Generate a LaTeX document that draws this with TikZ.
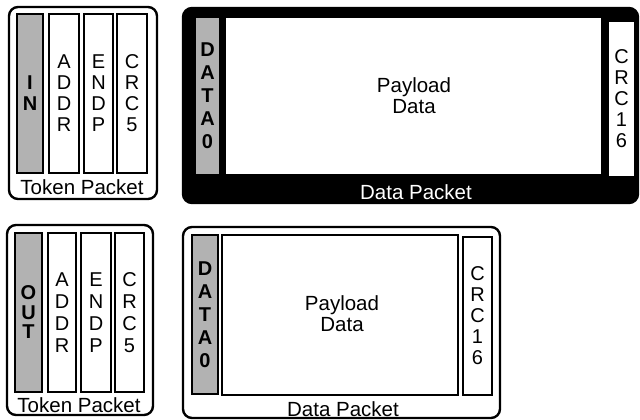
\documentclass[tikz,border=0pt]{standalone}
\usepackage{fontspec}
\setmainfont{Liberation Sans}
\begin{document}
\begin{tikzpicture}[x=1pt,y=-1pt,
  outer/.style={draw=black,line width=2.4pt,rounded corners=9pt},
  field/.style={draw=black,fill=white,line width=1.3pt,inner sep=0pt,align=center,
    font=\fontsize{20}{21}\selectfont},
  pid/.style={field,fill=black!30,font=\fontsize{20}{21}\selectfont\bfseries},
  caption/.style={inner sep=0pt,font=\fontsize{20.5}{22}\selectfont},
  bodytext/.style={inner sep=0pt,align=center,font=\fontsize{20.5}{21}\selectfont}]
\useasboundingbox (0,0) rectangle (640,420);

% field box helper: corners given in pixel-style coordinates
\newcommand{\fieldbox}[6]{%
  \node[#1,minimum width={#4-#2},minimum height={#5-#3}]
    (#6) at ({(#2+#4)/2},{(#3+#5)/2})}

% ---- IN token packet ----
\draw[outer] (9,7) rectangle (157,199);
\fieldbox{pid}{17}{14}{43}{173}{in} {I\\N};
\fieldbox{field}{49}{14}{79}{173}{addrA} {A\\D\\D\\R};
\fieldbox{field}{84}{14}{113}{173}{endpA} {E\\N\\D\\P};
\fieldbox{field}{117}{14}{147}{173}{crcA} {C\\R\\C\\5};
\node[caption] (tokA) at (82,187) {Token Packet};

% ---- DATA0 packet (inverted) ----
\draw[outer,fill=black] (183,8) rectangle (638,203);
\fieldbox{pid}{195}{17}{220}{175}{dataA} {D\\[2pt]A\\[2pt]T\\[2pt]A\\[2pt]0};
\fieldbox{field}{225}{17}{602}{175}{payA} {};
\node[bodytext] (payAt) at (414,96) {Payload\\Data};
\fieldbox{field}{608}{21}{635}{177}{crcB} {C\\R\\C\\1\\6};
\node[caption,text=white] (dpA) at (416,192) {Data Packet};

% ---- OUT token packet ----
\draw[outer] (7,225) rectangle (153,415);
\fieldbox{pid}{15}{233}{42}{392}{out} {O\\[-1.5pt]U\\[-1.5pt]T};
\fieldbox{field}{48}{233}{76}{392}{addrB} {A\\[1pt]D\\[1pt]D\\[1pt]R};
\fieldbox{field}{81}{233}{111}{392}{endpB} {E\\[1pt]N\\[1pt]D\\[1pt]P};
\fieldbox{field}{115}{233}{144}{392}{crcC} {C\\[1pt]R\\[1pt]C\\[1pt]5};
\node[caption] (tokB) at (79,405) {Token Packet};

% ---- DATA0 packet ----
\draw[outer] (183,227) rectangle (500,418);
\fieldbox{pid}{192}{235}{218}{394}{dataB} {D\\[2pt]A\\[2pt]T\\[2pt]A\\[2pt]0};
\fieldbox{field}{222}{235}{458}{395}{payB} {};
\node[bodytext] (payBt) at (342,314) {Payload\\Data};
\fieldbox{field}{463}{237}{492}{395}{crcD} {C\\R\\C\\1\\6};
\node[caption] (dpB) at (343,409) {Data Packet};
\end{tikzpicture}
\end{document}
